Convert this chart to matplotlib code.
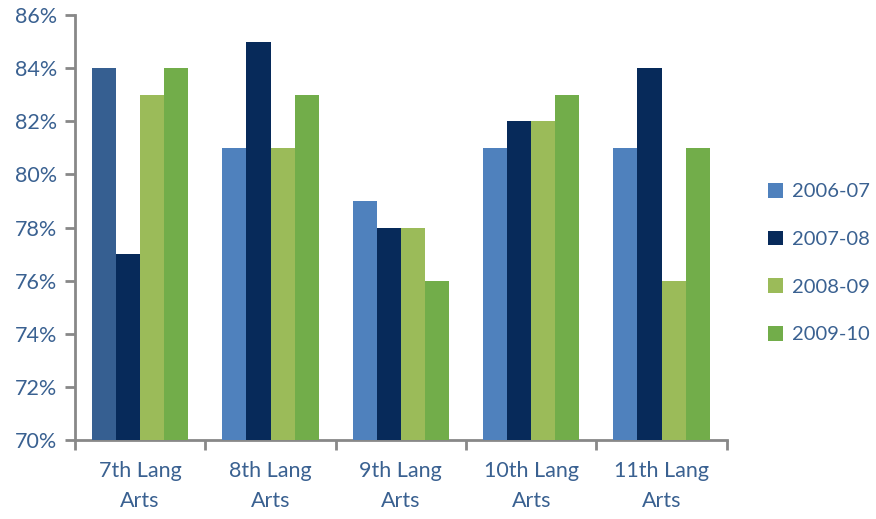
import matplotlib
matplotlib.use("Agg")
import matplotlib.pyplot as plt
import numpy as np
from matplotlib.ticker import FuncFormatter
from matplotlib.patches import Patch

categories = ["7th Lang\nArts", "8th Lang\nArts", "9th Lang\nArts", "10th Lang\nArts", "11th Lang\nArts"]
series_names = ["2006-07", "2007-08", "2008-09", "2009-10"]
v2006 = [84, 81, 79, 81, 81]
v2007 = [77, 85, 78, 82, 84]
v2008 = [83, 81, 78, 82, 76]
v2009 = [84, 83, 76, 83, 81]
series_values = [v2006, v2007, v2008, v2009]
colors = ["#4F81BD", "#072A5A", "#9BBB59", "#72AD4A"]
first_bar_color = "#365F91"
text_color = "#3A6191"

plt.rcParams['font.family'] = ['Lato', 'DejaVu Sans']

fig = plt.figure(figsize=(8.76, 5.19), dpi=100)
fig.patch.set_facecolor("white")

ax = fig.add_axes([0.0856, 0.152, 0.744, 0.819])

x = np.arange(len(categories))
w = 0.185
for i, (name, vals, c) in enumerate(zip(series_names, series_values, colors)):
    offs = (i - 1.5) * w
    heights = [v - 70 for v in vals]
    bars = ax.bar(x + offs, heights, width=w, bottom=70, color=c,
                  edgecolor="none", zorder=3)
    if i == 0:
        bars[0].set_facecolor(first_bar_color)

ax.set_xlim(-0.5, len(categories) - 0.5)
ax.set_ylim(70, 86)
ax.set_yticks(np.arange(70, 87, 2))
ax.yaxis.set_major_formatter(FuncFormatter(lambda v, p: f"{int(v)}%"))
ax.set_xticks(x)
ax.set_xticklabels(categories, fontsize=15.5, color=text_color, linespacing=1.6)
ax.set_xticks(np.arange(-0.5, len(categories), 1), minor=True)
ax.tick_params(axis="x", which="major", length=0, pad=15)
ax.tick_params(axis="x", which="minor", length=7, width=2, color="#888888", direction="out")
ax.tick_params(axis="y", length=7, width=2, color="#888888", direction="out",
               labelsize=15.5, labelcolor=text_color, pad=6)

for s in ["top", "right"]:
    ax.spines[s].set_visible(False)
for s in ["left", "bottom"]:
    ax.spines[s].set_color("#888888")
    ax.spines[s].set_linewidth(2)

handles = [Patch(facecolor=c, edgecolor="none") for c in colors]
leg = fig.legend(handles, series_names, loc="center left", bbox_to_anchor=(0.856, 0.493),
                 frameon=False, fontsize=14.5, labelspacing=1.5, handlelength=0.75,
                 handleheight=0.75, handletextpad=0.45)
for t in leg.get_texts():
    t.set_color(text_color)

fig.savefig("out.png", dpi=100, facecolor="white")
